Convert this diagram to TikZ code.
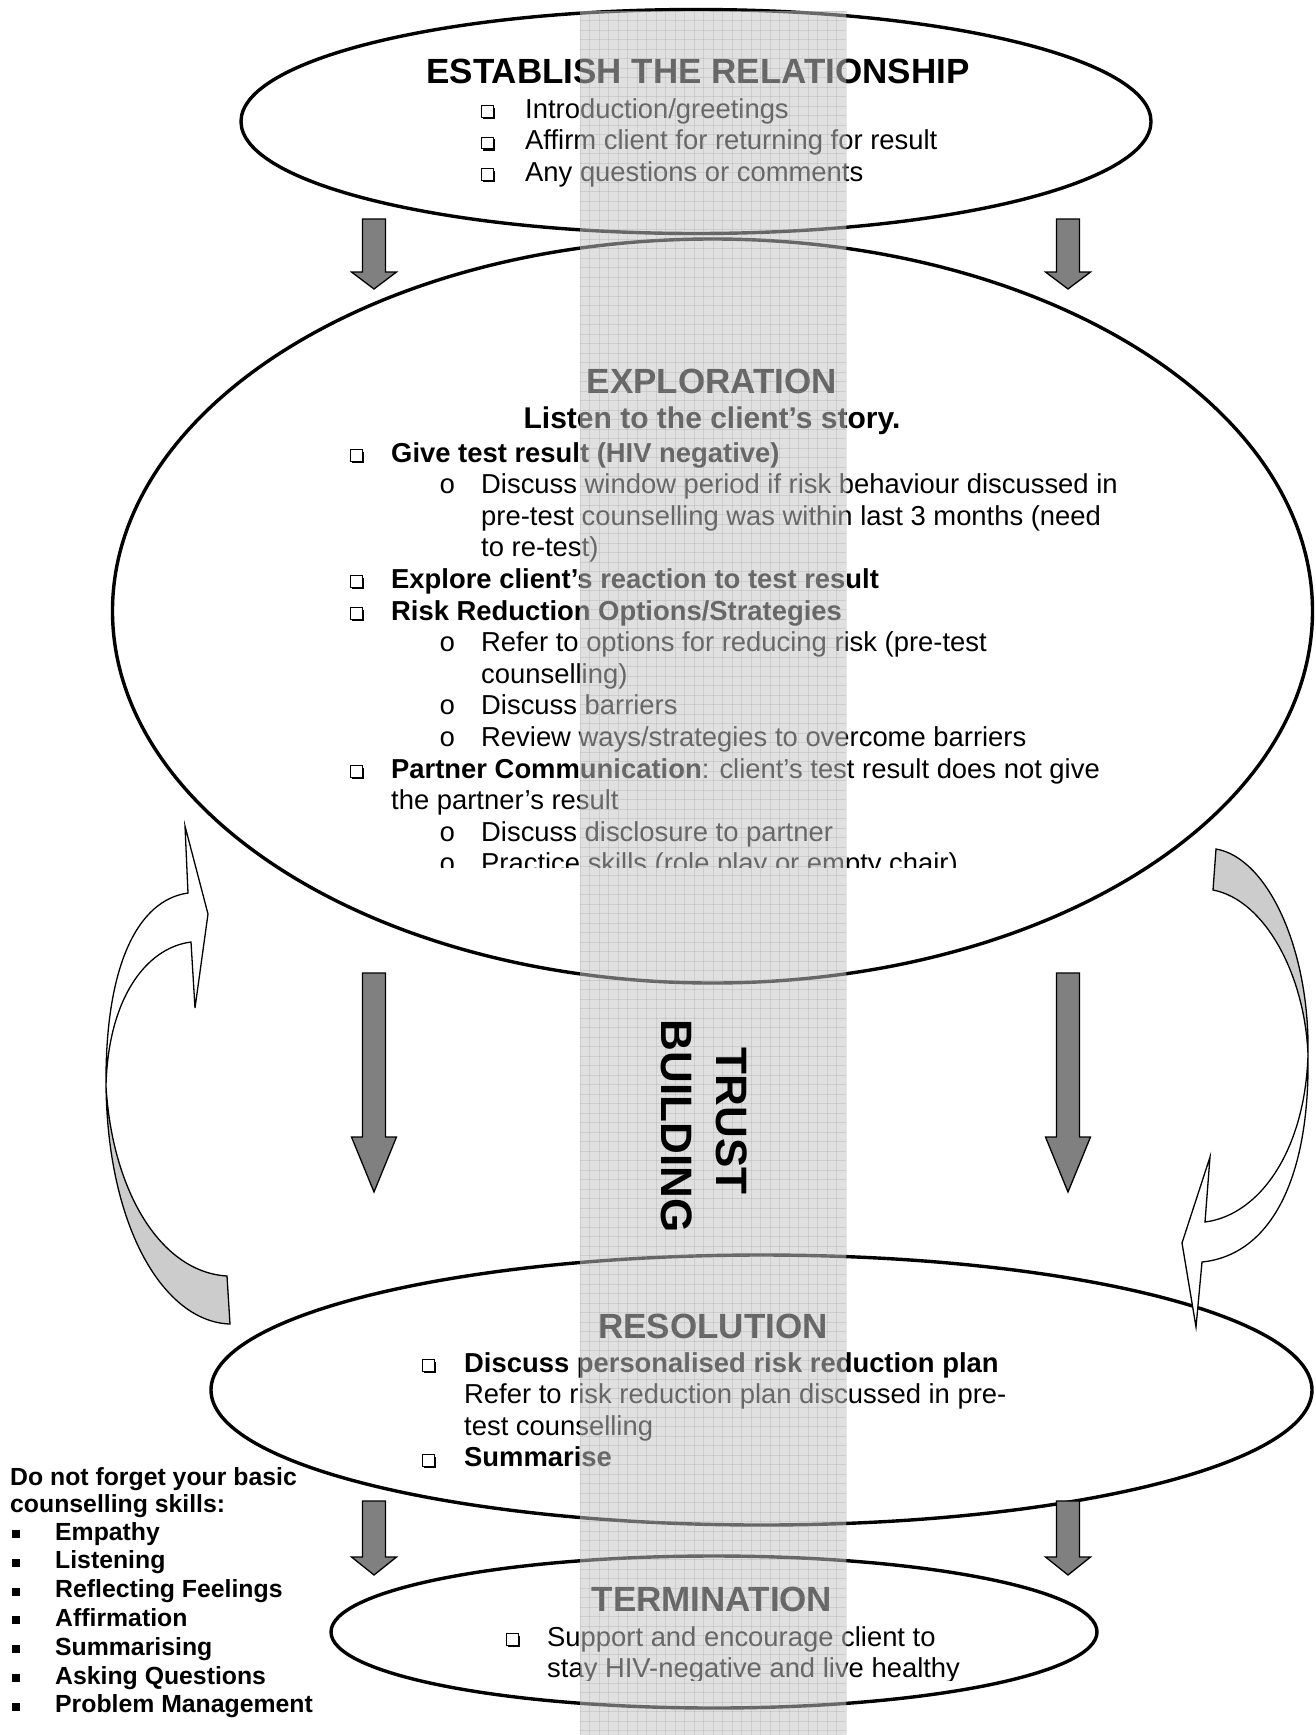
\documentclass[tikz,border=0pt]{standalone}
\usepackage{fontspec}
\setmainfont{Liberation Sans}
\newfontfamily\courfont{Liberation Mono}
\usetikzlibrary{shapes.geometric}
\newcommand\myfs[2]{\fontsize{#1}{#2}\selectfont}
\newcommand\bodyf{\myfs{27.4}{31.6}}
\newcommand\titlef{\bfseries\myfs{35}{40}}
% x, top, head base, tip
\newcommand\downarr[4]{%
  \draw[darr] ({#1-11.5},#2) -- ({#1+11.5},#2) -- ({#1+11.5},#3) -- ({#1+22.5},#3)
     -- (#1,#4) -- ({#1-22.5},#3) -- ({#1-11.5},#3) -- cycle;}
\tikzset{
  ell/.style={ellipse, draw=black, line width=3.4, inner sep=0, outer sep=0},
  darr/.style={fill=black!50, draw=black, line width=1.3, line join=miter},
  carr/.style={draw=black, line width=1.3, line join=miter},
  tl/.style={inner sep=0, anchor=base west, font=\bodyf},
  tlb/.style={inner sep=0, anchor=base west, font=\bfseries\bodyf},
  tc/.style={inner sep=0, anchor=base, font=\titlef},
  ob/.style={inner sep=0, anchor=base west, font=\courfont\bodyf},
  sk/.style={inner sep=0, anchor=base west, font=\bfseries\myfs{24.8}{28.5}},
  band/.style={fill=black!23, opacity=0.52},
  gridln/.style={draw=black!45, opacity=0.22, line width=0.7},
  qbox/.pic={\fill[black] (-4,-10.2) rectangle (8,1);
             \draw[fill=white, line width=1] (-6,-12.5) rectangle (6,-0.8);},
  sqb/.pic={\fill[black] (12,-10) rectangle (19.5,-2);}
}
\begin{document}
\begin{tikzpicture}[x=1pt, y=-1pt]
\useasboundingbox (0,0) rectangle (1315,1735);
\fill[white] (0,0) rectangle (1315,1735);

% ellipses
\node[ell, minimum width=910, minimum height=224] (e1) at (696,121.5) {};
\node[ell, minimum width=1200, minimum height=744] (e2) at (712.5,611) {};
\node[ell, minimum width=1101, minimum height=270] (e3) at (761.5,1390) {};
\node[ell, minimum width=766, minimum height=152] (e4) at (714,1632) {};

% straight arrows
\downarr{374}{219}{272}{289}
\downarr{1068}{219}{272}{289}
\downarr{374}{973}{1137}{1192}
\downarr{1068}{973}{1137}{1192}
\downarr{374}{1501}{1557}{1575}
\downarr{1068}{1501}{1557}{1575}

% left curved arrow
\draw[carr, fill=black!20] (106,1086) .. controls (108,1230) and (165,1322) .. (230,1324)
   -- (227,1276) .. controls (160,1272) and (112,1190) .. (106,1086) -- cycle;
\draw[carr, fill=white] (106,1086) .. controls (105,965) and (138,900) .. (188,893)
   -- (185,826) -- (208,914) -- (195,1008) -- (191,942)
   .. controls (145,948) and (108,1000) .. (106,1086) -- cycle;

% right curved arrow
\draw[carr, fill=black!20] (1216,849) .. controls (1268,858) and (1310,950) .. (1308,1055)
   .. controls (1305,975) and (1265,900) .. (1213,890) -- cycle;
\draw[carr, fill=white] (1308,1055) .. controls (1310,1180) and (1270,1255) .. (1202,1262)
   -- (1196,1327) -- (1182,1243) -- (1210,1157) -- (1205,1222)
   .. controls (1260,1215) and (1305,1150) .. (1308,1055) -- cycle;

% establish
\node[tc] (t1) at (698,83) {ESTABLISH THE RELATIONSHIP};
\pic at (487,118) {qbox}; \node[tl] (t1a) at (525,118) {Introduction/greetings};
\pic at (487,149.5) {qbox}; \node[tl] (t1b) at (525,149.5) {Affirm client for returning for result};
\pic at (487,181) {qbox}; \node[tl] (t1c) at (525,181) {Any questions or comments};

% exploration
\begin{scope}
\clip (0,0) rectangle (1315,867);
\node[tc] (t2) at (712,393) {EXPLORATION};
\node[tc, font=\bfseries\myfs{30}{34}] (t2l) at (712,428) {Listen to the client’s story.};
\pic at (356,462) {qbox}; \node[tlb] (x1) at (391,462) {Give test result (HIV negative)};
\node[ob] (o1) at (439,493.6) {o}; \node[tl] (x2) at (481,493.6) {Discuss window period if risk behaviour discussed in};
\node[tl] (x3) at (481,525.2) {pre-test counselling was within last 3 months (need};
\node[tl] (x4) at (481,556.8) {to re-test)};
\pic at (356,588.4) {qbox}; \node[tlb] (x5) at (391,588.4) {Explore client’s reaction to test result};
\pic at (356,620) {qbox}; \node[tlb] (x6) at (391,620) {Risk Reduction Options/Strategies};
\node[ob] (o2) at (439,651.6) {o}; \node[tl] (x7) at (481,651.6) {Refer to options for reducing risk (pre-test};
\node[tl] (x8) at (481,683.2) {counselling)};
\node[ob] (o3) at (439,714.8) {o}; \node[tl] (x9) at (481,714.8) {Discuss barriers};
\node[ob] (o4) at (439,746.4) {o}; \node[tl] (x10) at (481,746.4) {Review ways/strategies to overcome barriers};
\pic at (356,778) {qbox}; \node[tl] (x11) at (391,778) {\textbf{Partner Communication}: client’s test result does not give};
\node[tl] (x12) at (391,809.6) {the partner’s result};
\node[ob] (o5) at (439,841.2) {o}; \node[tl] (x13) at (481,841.2) {Discuss disclosure to partner};
\node[ob] (o6) at (439,872.8) {o}; \node[tl] (x14) at (481,872.8) {Practice skills (role play or empty chair)};
\end{scope}

% resolution
\node[tc] (t3) at (713,1338) {RESOLUTION};
\pic at (428,1372) {qbox}; \node[tlb] (r1) at (464,1372) {Discuss personalised risk reduction plan};
\node[tl] (r2) at (464,1403.6) {Refer to risk reduction plan discussed in pre-};
\node[tl] (r3) at (464,1435.2) {test counselling};
\pic at (428,1466.8) {qbox}; \node[tlb] (r4) at (464,1466.8) {Summarise};

% termination
\node[tc] (t4) at (712,1611) {TERMINATION};
\begin{scope}
\clip (300,1550) rectangle (1100,1680);
\pic at (512,1646) {qbox}; \node[tl] (m1) at (547,1646) {Support and encourage client to};
\node[tl] (m2) at (547,1677) {stay HIV-negative and live healthy};
\end{scope}

% skills
\node[sk] (s0) at (10,1485) {Do not forget your basic};
\node[sk] (s1) at (10,1512.5) {counselling skills:};
\foreach \k/\w [count=\n] in {0/Empathy,1/Listening,2/Reflecting Feelings,3/Affirmation,4/Summarising,5/Asking Questions,6/Problem Management}{
  \pic at (0,{1540+28.8*\k}) {sqb};
  \node[sk] (sk\n) at (55,{1540+28.8*\k}) {\w};
}

% translucent band
\fill[band] (580,11) rectangle (846,1735);
\foreach \i in {0,...,28} \draw[gridln] ({580+9.5*\i},11) -- ({580+9.5*\i},1735);
\foreach \j in {0,...,181} \draw[gridln] (580,{11+9.5*\j}) -- (846,{11+9.5*\j});

% trust building
\node[inner sep=0, anchor=base, rotate=-90, font=\bfseries\myfs{44}{53}] (tb1) at (716,1121) {TRUST};
\node[inner sep=0, anchor=base, rotate=-90, font=\bfseries\myfs{44}{53}] (tb2) at (661,1126) {BUILDING};
\end{tikzpicture}
\end{document}
